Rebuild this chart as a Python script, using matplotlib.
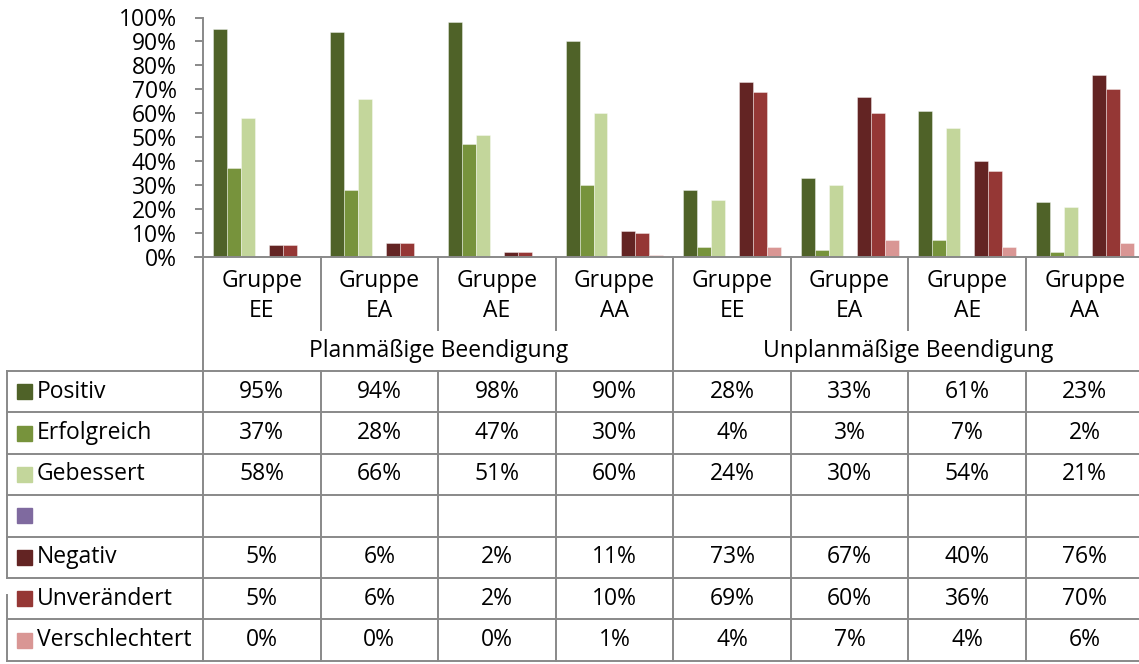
import matplotlib
matplotlib.use("Agg")
import matplotlib.pyplot as plt
import numpy as np

plt.rcParams['font.family'] = ['Open Sans', 'DejaVu Sans']

# data
groups = ["Gruppe\nEE", "Gruppe\nEA", "Gruppe\nAE", "Gruppe\nAA",
          "Gruppe\nEE", "Gruppe\nEA", "Gruppe\nAE", "Gruppe\nAA"]
blocks = ["Planmäßige Beendigung", "Unplanmäßige Beendigung"]
series = ["Positiv", "Erfolgreich", "Gebessert", "", "Negativ", "Unverändert", "Verschlechtert"]
colors = ["#4F6228", "#77933C", "#C3D69B", "#7F6A9F", "#632423", "#953735", "#D99694"]

positiv = [95, 94, 98, 90, 28, 33, 61, 23]
erfolgreich = [37, 28, 47, 30, 4, 3, 7, 2]
gebessert = [58, 66, 51, 60, 24, 30, 54, 21]
leer = [None] * 8
negativ = [5, 6, 2, 11, 73, 67, 40, 76]
unveraendert = [5, 6, 2, 10, 69, 60, 36, 70]
verschlechtert = [0, 0, 0, 1, 4, 7, 4, 6]
values = [positiv, erfolgreich, gebessert, leer, negativ, unveraendert, verschlechtert]

W, H = 1139, 664
fig = plt.figure(figsize=(W / 100, H / 100), dpi=100)
fs = 16.5

# layout in pixels
x0 = 203          # plot left
gw = 117.57       # group width
y_top, y_zero = 17.5, 257
gray = "#898989"

ax = fig.add_axes([x0 / W, 1 - y_zero / H, (W - x0) / W, (y_zero - y_top) / H])
n = len(series)
bw = 1 / (n + 1.4)
xs = np.arange(len(groups)) + 0.5
for i, (name, vals, c) in enumerate(zip(series, values, colors)):
    if vals[0] is None:
        continue
    off = (i - (n - 1) / 2) * bw
    ax.bar(xs + off, np.array(vals) / 100, width=bw, color=c,
           edgecolor=(1, 1, 1, 0.45), linewidth=0.6)
ax.set_xlim(0, (W - x0) / gw)
ax.set_ylim(0, 1)
ax.set_yticks(np.arange(0, 1.01, 0.1))
ax.set_yticklabels([f"{int(round(v * 100))}%" for v in np.arange(0, 1.01, 0.1)], fontsize=fs)
ax.set_xticks([])
for s in ["top", "right"]:
    ax.spines[s].set_visible(False)
for s in ["left", "bottom"]:
    ax.spines[s].set_color(gray)
    ax.spines[s].set_linewidth(1.4)
ax.tick_params(axis="y", direction="out", length=6, width=1.4, color=gray, pad=13)
ax.spines["bottom"].set_bounds(-8 / gw, (W - x0) / gw)
ax.spines["bottom"].set_clip_on(False)

# overlay in pixel coordinates for data table
tab = fig.add_axes([0, 0, 1, 1])
tab.set_xlim(0, W)
tab.set_ylim(H, 0)
tab.axis("off")

col_edges = [x0 + k * gw for k in range(len(groups) + 1)]
row_top = 371
rh = 41.4
rows_y = [row_top + k * rh for k in range(n + 1)]
lw = 1.4
left = 7

# header: group labels
for k in range(len(groups)):
    cx = (col_edges[k] + col_edges[k + 1]) / 2
    tab.text(cx, 296, groups[k], ha="center", va="center", fontsize=fs, linespacing=1.3)
for k in range(1, len(groups)):
    if k == 4:
        tab.plot([col_edges[k]] * 2, [y_zero, row_top], color=gray, lw=lw)
    else:
        tab.plot([col_edges[k]] * 2, [y_zero, 330], color=gray, lw=lw)
tab.plot([x0, x0], [y_zero, rows_y[-1]], color=gray, lw=lw)
for b, name in enumerate(blocks):
    cx = (col_edges[4 * b] + col_edges[4 * b + 4]) / 2
    tab.text(cx, 351, name, ha="center", va="center", fontsize=fs)

# table grid
for y in rows_y:
    tab.plot([left, W], [y, y], color=gray, lw=lw)
for k in range(1, len(groups)):
    tab.plot([col_edges[k]] * 2, [row_top, rows_y[-1]], color=gray, lw=lw)
tab.plot([left, left], [row_top, rows_y[5]], color=gray, lw=lw)
tab.plot([left, left], [rows_y[5] + 17, rows_y[-1]], color=gray, lw=lw)

# table contents
for r, (name, vals, c) in enumerate(zip(series, values, colors)):
    cy = (rows_y[r] + rows_y[r + 1]) / 2
    tab.add_patch(plt.Rectangle((17, cy - 7.5), 15, 15, color=c))
    if name:
        tab.text(37, cy, name, ha="left", va="center", fontsize=fs)
    for k, v in enumerate(vals):
        if v is None:
            continue
        cx = (col_edges[k] + col_edges[k + 1]) / 2
        tab.text(cx, cy, f"{v}%", ha="center", va="center", fontsize=fs)

fig.savefig("out.png", dpi=100)
